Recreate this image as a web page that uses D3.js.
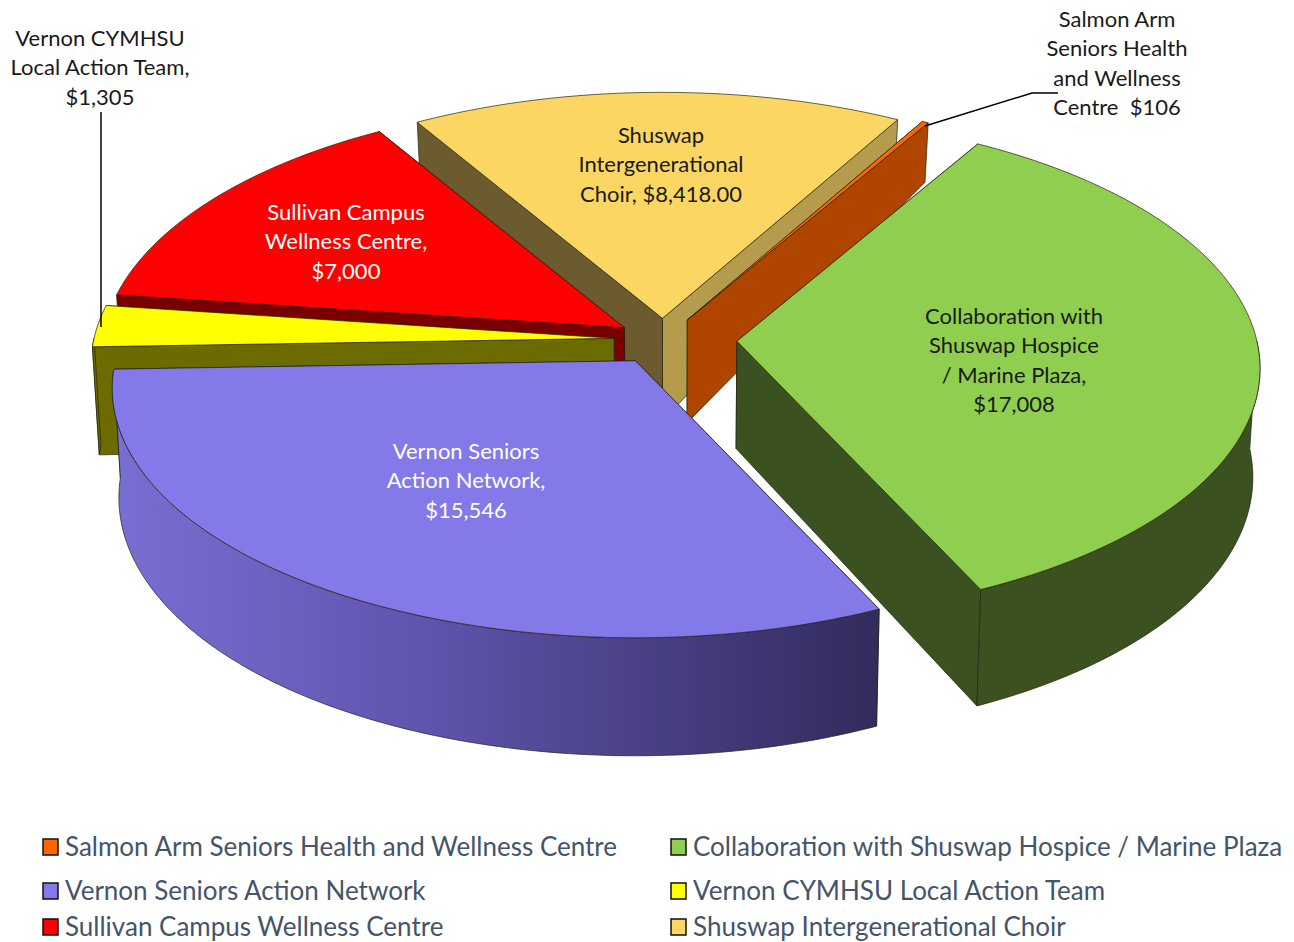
<!DOCTYPE html>
<html>
<head>
<meta charset="utf-8">
<script src="https://cdn.jsdelivr.net/npm/d3@7"></script>
<style>
  html, body { margin: 0; padding: 0; background: #fff; overflow: hidden; }
  text { font-family: Lato, "Open Sans", sans-serif; }
</style>
</head>
<body>
<div id="chart"></div>
<script>
// Values, in pie order (clockwise)
const names = [
    "Salmon Arm Seniors Health and Wellness Centre",
    "Collaboration with Shuswap Hospice / Marine Plaza",
    "Vernon Seniors Action Network",
    "Vernon CYMHSU Local Action Team",
    "Sullivan Campus Wellness Centre",
    "Shuswap Intergenerational Choir"
];
const values = [106, 17008, 15546, 1305, 7000, 8418];
const labelLines = [
    ["Salmon Arm", "Seniors Health", "and Wellness", "Centre  $106"],
    ["Collaboration with", "Shuswap Hospice", "/ Marine Plaza,", "$17,008"],
    ["Vernon Seniors", "Action Network,", "$15,546"],
    ["Vernon CYMHSU", "Local Action Team,", "$1,305"],
    ["Sullivan Campus", "Wellness Centre,", "$7,000"],
    ["Shuswap", "Intergenerational", "Choir, $8,418.00"]
];

// Styling, same order as the data
const topColors = ["#ff6600", "#8fce4f", "#8479e8", "#ffff00", "#ff0000", "#fbd663"];
const wallColors = ["#b04500", "#3b5120", "url(#purple-wall)", "#6b6b00", "#7a0000", "#6b5b2e"];
const startCutColors = ["#b04500", "#3b5120", "#5a50a8", "#6b6b00", "#7a0000", "#6b5b2e"];
const endCutColors = ["#b04500", "#3b5120", "#5a50a8", "#6b6b00", "#7a0000", "#b59b4c"];
const labelColors = ["#1a1a1a", "#1a1a1a", "#ffffff", "#1a1a1a", "#ffffff", "#1a1a1a"];
const explode = [48, 74, 53, 49, 46, 45];
const labelPos = [[1117, 27], [1014, 324], [466, 459], [100, 46], [346, 220], [661, 143]];
const drawOrder = [5, 0, 4, 3, 2, 1];

const width = 1294, height = 942;
const cx = 663, cy = 339.5;
const startAngle = 30;

const svg = d3.select("#chart").append("svg")
    .attr("width", width)
    .attr("height", height)
    .style("display", "block");

const grad = svg.append("defs").append("linearGradient")
    .attr("id", "purple-wall")
    .attr("gradientUnits", "userSpaceOnUse")
    .attr("x1", 112).attr("x2", 880).attr("y1", 0).attr("y2", 0);
grad.append("stop").attr("offset", 0).attr("stop-color", "#7a6fd2");
grad.append("stop").attr("offset", 0.4).attr("stop-color", "#5f55ae");
grad.append("stop").attr("offset", 1).attr("stop-color", "#322b5c");

const rad = d => d * Math.PI / 180;
const pie = d3.pie().sort(null)
    .startAngle(rad(startAngle))
    .endAngle(rad(startAngle + 360));
const slices = pie(values);

// wall height shrinks towards the back of the pie
const depth = d3.scaleLinear().domain([125, 344, 637]).range([60, 108, 118]);

// perspective projection of a point on the unit circle
function project(angle) {
    const u = Math.sin(angle), v = -Math.cos(angle);
    return [520 * u * (1 + 0.11 * v), v * (251.5 + 25.5 * v)];
}

function drop(p) {
    return [p[0] + (cx - p[0]) * 0.012, p[1] + depth(p[1])];
}

const line = d3.line();

function facePath(g, d, fill) {
    return g.append("path")
        .attr("d", d)
        .attr("fill", fill)
        .attr("stroke", "#22220f")
        .attr("stroke-width", 0.7)
        .attr("stroke-linejoin", "round");
}

drawOrder.forEach(i => {
    const s = slices[i];
    const mid = (s.startAngle + s.endAngle) / 2;
    const ox = cx + explode[i] * Math.sin(mid);
    const oy = cy - explode[i] * Math.cos(mid) * 0.47;
    const at = angle => {
        const p = project(angle);
        return [ox + p[0], oy + p[1]];
    };
    const apex = [ox, oy];
    const g = svg.append("g").attr("class", "slice");

    // the two cut faces, the one reaching lower on screen goes last
    const cuts = [
        { rim: at(s.startAngle), color: startCutColors[i] },
        { rim: at(s.endAngle), color: endCutColors[i] }
    ].sort((a, b) => a.rim[1] - b.rim[1]);
    cuts.forEach(c => {
        facePath(g, line([apex, c.rim, drop(c.rim), drop(apex)]) + "Z", c.color);
    });

    // outer wall, only the part that faces the viewer
    const a0 = Math.max(s.startAngle, rad(90)), a1 = Math.min(s.endAngle, rad(270));
    if (a1 > a0) {
        const rim = d3.range(a0, a1, rad(1)).concat([a1]).map(at);
        facePath(g, line(rim.concat(rim.map(drop).reverse())) + "Z", wallColors[i]);
    }

    // top face
    const arc = d3.range(s.startAngle, s.endAngle, rad(1)).concat([s.endAngle]).map(at);
    facePath(g, line([apex].concat(arc)) + "Z", topColors[i]);
});

// Leader lines
svg.append("path")
    .attr("d", line([[101, 112], [101, 327]]))
    .attr("fill", "none").attr("stroke", "#000").attr("stroke-width", 1.5);
svg.append("path")
    .attr("d", line([[925, 126], [1032, 93], [1058, 93]]))
    .attr("fill", "none").attr("stroke", "#000").attr("stroke-width", 1.5);

// Slice labels
labelLines.forEach((lines, i) => {
    const t = svg.append("text")
        .attr("text-anchor", "middle")
        .attr("fill", labelColors[i])
        .style("font-size", "22px")
        .style("white-space", "pre");
    lines.forEach((txt, j) => {
        t.append("tspan")
            .attr("x", labelPos[i][0])
            .attr("y", labelPos[i][1] + j * 29.3)
            .text(txt);
    });
});

// Legend, filled across two columns
const legendCols = [43, 671];
const legendRows = [847, 891, 927];

names.forEach((name, i) => {
    const x = legendCols[i % 2], y = legendRows[Math.floor(i / 2)];
    svg.append("rect")
        .attr("x", x).attr("y", y - 8)
        .attr("width", 15).attr("height", 16)
        .attr("fill", topColors[i])
        .attr("stroke", "#111").attr("stroke-width", 1.5);
    svg.append("text")
        .attr("x", x + 22).attr("y", y + 9)
        .attr("fill", "#44546a")
        .style("font-size", "26px")
        .text(name);
});
</script>
</body>
</html>
